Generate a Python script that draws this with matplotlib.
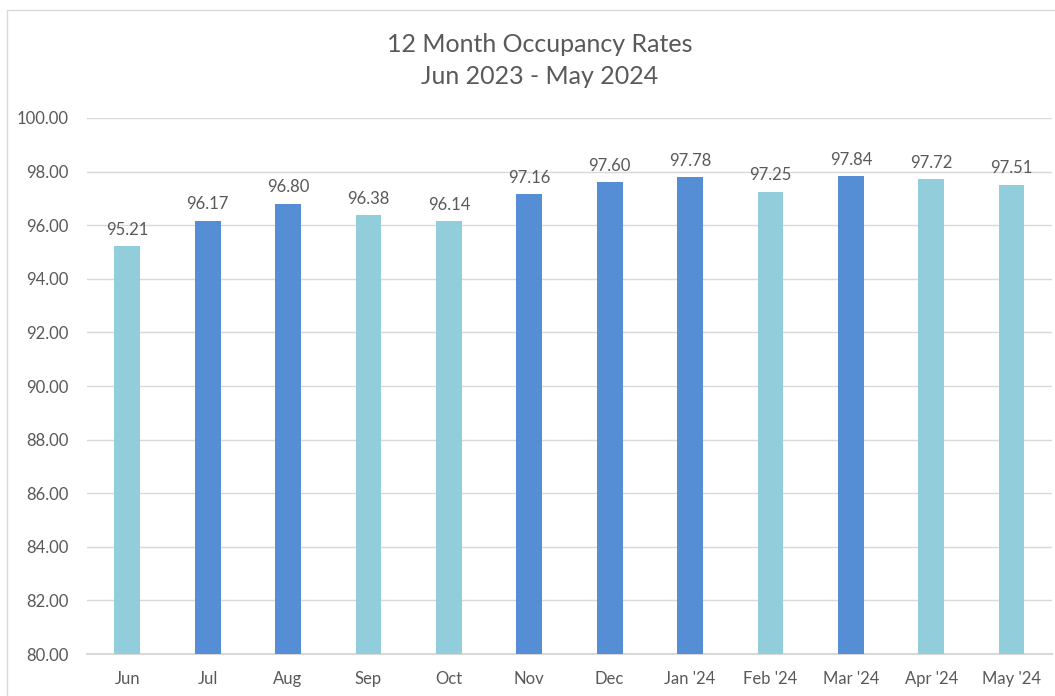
import matplotlib.pyplot as plt
from matplotlib.patches import Rectangle

# Monthly occupancy rates, Jun 2023 - May 2024
months = ['Jun', 'Jul', 'Aug', 'Sep', 'Oct', 'Nov', 'Dec',
          "Jan '24", "Feb '24", "Mar '24", "Apr '24", "May '24"]
rates = [95.21, 96.17, 96.80, 96.38, 96.14, 97.16, 97.60,
         97.78, 97.25, 97.84, 97.72, 97.51]

light = '#92CDDC'
dark = '#558ED5'
bar_colors = [light, dark, dark, light, light, dark, dark,
              dark, light, dark, light, light]

text_color = '#595959'
grid_color = '#D9D9D9'

plt.rcParams['font.family'] = ['Lato', 'DejaVu Sans']

fig = plt.figure(figsize=(10.55, 6.96), dpi=100)
ax = fig.add_axes([0.0825, 0.0603, 0.9145, 0.7702])

x = range(len(months))
bars = ax.bar(x, rates, width=0.32, color=bar_colors, zorder=3)

ax.set_ylim(80, 100)
ax.set_xlim(-0.5, len(months) - 0.5)
ax.set_yticks(range(80, 101, 2))
ax.set_yticklabels([f'{v:.2f}' for v in range(80, 101, 2)])
ax.set_xticks(list(x))
ax.set_xticklabels(months)

ax.tick_params(axis='both', length=0, labelsize=12, colors=text_color)
ax.tick_params(axis='x', pad=12)
ax.tick_params(axis='y', pad=13)

ax.grid(axis='y', color=grid_color, linewidth=1, zorder=0)
for side in ['top', 'right', 'left']:
    ax.spines[side].set_visible(False)
ax.spines['bottom'].set_color(grid_color)
ax.spines['bottom'].set_linewidth(1.5)

for bar, val in zip(bars, rates):
    ax.annotate(f'{val:.2f}', (bar.get_x() + bar.get_width() / 2, val),
                xytext=(0, 6), textcoords='offset points',
                ha='center', va='bottom', fontsize=12, color=text_color)

fig.text(540 / 1055, 1 - 44 / 696, '12 Month Occupancy Rates', ha='center', va='center',
         fontsize=18, color=text_color)
fig.text(540 / 1055, 1 - 77 / 696, 'Jun 2023 - May 2024', ha='center', va='center',
         fontsize=18, color=text_color)

# light chart-area border
fig.patches.append(Rectangle((7 / 1055, -0.05), 1.1, 0.05 + 1 - 10 / 696,
                             transform=fig.transFigure, fill=False,
                             edgecolor=grid_color, linewidth=1))

fig.savefig('out.png', dpi=100)
